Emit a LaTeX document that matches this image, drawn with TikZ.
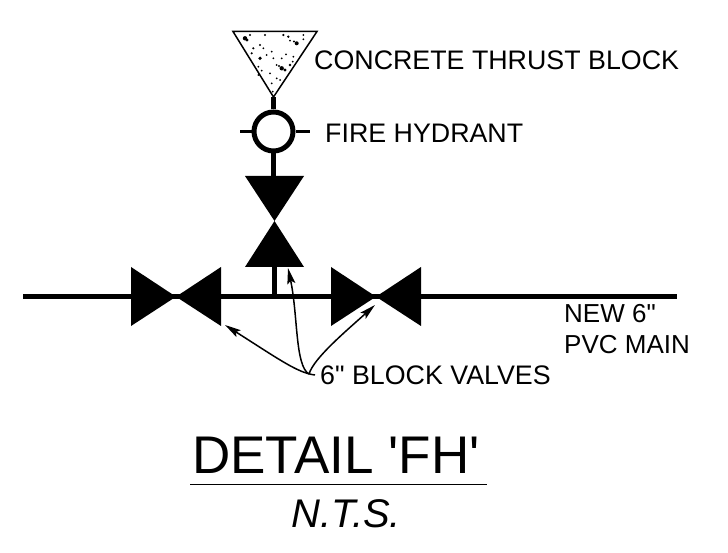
\documentclass[tikz,border=0pt]{standalone}
\usepackage{fontspec}
\newfontfamily\lib{Liberation Sans}
\usetikzlibrary{arrows.meta}
\tikzset{
  txt/.style={inner sep=0pt,anchor=base west,font=\lib\fontsize{26.8pt}{30pt}\selectfont},
  txts/.style={inner sep=0pt,anchor=base west,font=\lib\fontsize{26pt}{30pt}\selectfont},
  pipe/.style={line width=4.4pt,black},
  stub/.style={line width=2.6pt,black},
  valve/.style={fill=black,draw=none},
  leader/.style={line width=1.5pt,black,-{Stealth[length=16pt,width=8pt,inset=3pt]}},
  speck/.style={fill=black,draw=none}
}
\begin{document}
\begin{tikzpicture}[x=1pt,y=-1pt]
\useasboundingbox (0,0) rectangle (728,553);
% thrust block
\draw[line width=1.5pt,black,line join=miter] (233,31.5) -- (317,31.5) -- (273.5,97) -- cycle;
\foreach \x/\y/\r in {245/38.3/2.2,247/40/1.6,250/35/1.2,265/35/1.2,283.3/35/1.2,288.3/36.7/1.3,290/40.7/1,303.3/35/1,303.3/39.3/1,
 296.7/43.3/2,294/41.5/1.2,253.3/48.3/1.2,260/45/1.2,263.3/48.3/1,251.7/53.3/1.2,271.7/51.7/1,266.7/55/1,273.3/58.3/1,260/58.3/1.8,
 286/54.3/1,281.7/58.3/1,293.3/56.7/1,292.7/61.7/1,290/65/1.4,276.7/65/1,281.7/68.3/2.2,285/70/1.6,279/66/1.2,258.3/66.7/1,
 261.7/70.7/1,270/73.3/1,276.7/78.3/1,280/80/1,258.3/75/1,271.7/83.3/1,272.7/91.7/1}
  \fill[speck] (\x,\y) circle[radius=\r];
% stem and hydrant
\coordinate (stemA) at (273.5,97);
\node[circle,draw=black,line width=5pt,minimum size=39pt,inner sep=0pt] (hyd) at (273.5,131.5) {};
\draw[pipe] (stemA) -- (hyd.north);
\coordinate (stubL) at (240,131.5);
\coordinate (stubR) at (310,131.5);
\draw[stub] (stubL) -- (hyd.west);
\draw[stub] (hyd.east) -- (stubR);
% vertical valve
\coordinate (vtop) at (273.5,176);
\draw[pipe] (hyd.south) -- (vtop);
\fill[valve] (245,176) -- (304,176) -- (274.5,221) -- cycle;
\fill[valve] (245,267) -- (304,267) -- (274.5,221) -- cycle;
% main
\coordinate (mainL) at (23,296.7);
\coordinate (mainR) at (677,296.7);
\coordinate (tee) at (274.5,296.7);
\coordinate (vbot) at (274.5,266);
\draw[pipe] (mainL) -- (mainR);
\draw[pipe] (vbot) -- (tee);
\fill[valve] (131,267) -- (131,326) -- (176,296.7) -- cycle;
\fill[valve] (221,267) -- (221,326) -- (176,296.7) -- cycle;
\fill[valve] (331,267) -- (331,326) -- (376,296.7) -- cycle;
\fill[valve] (421,267) -- (421,326) -- (376,296.7) -- cycle;
% labels
\node[txt] (cb) at (314,70) {CONCRETE THRUST BLOCK};
\node[txt] (fh) at (325,143) {FIRE HYDRANT};
\node[txts] (main1) at (564,322) {NEW 6"};
\node[txts] (main2) at (564,353) {PVC MAIN};
\node[txt] (bv) at (320,384) {6" BLOCK VALVES};
% leaders
\coordinate (L) at (315,375);
\coordinate (L2) at (309,374);
\coordinate (T1) at (225,325);
\coordinate (T2) at (288,268);
\coordinate (T3) at (375,305);
\draw[leader] (L) .. controls (298,373) and (280,360) .. (T1);
\draw[leader] (L2) .. controls (295,366) and (298,315) .. (T2);
\draw[leader] (L2) .. controls (314,358) and (345,332) .. (T3);
% title
\node[inner sep=0pt,anchor=base west,font=\lib\fontsize{53pt}{56pt}\selectfont] (title) at (192,473) {DETAIL 'FH'};
\coordinate (ruleL) at (190,484.7);
\coordinate (ruleR) at (487,484.7);
\draw[line width=1.4pt,black] (ruleL) -- (ruleR);
\node[inner sep=0pt,anchor=base west,font=\lib\itshape\fontsize{40pt}{42pt}\selectfont] (nts) at (291,527) {N.T.S.};
\end{tikzpicture}
\end{document}
